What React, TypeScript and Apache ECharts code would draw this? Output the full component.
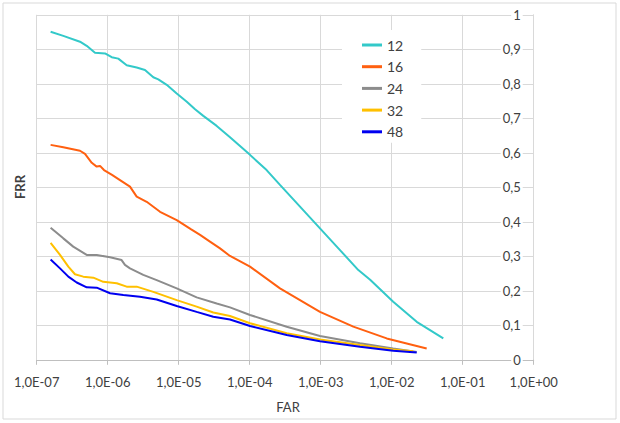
import React, { useEffect, useRef } from "react";
import * as echarts from "echarts";

const seriesNames = ["12", "16", "24", "32", "48"];
const seriesColors = ["#33C9C9", "#FF6010", "#8C8C8C", "#FFC000", "#0000F0"];

// [FAR, FRR]
const s12: [number, number][] = [
  [1.57e-7, 0.951], [2.37e-7, 0.939], [4.07e-7, 0.922], [5.06e-7, 0.91], [6.62e-7, 0.89],
  [9.16e-7, 0.888], [1.14e-6, 0.877], [1.41e-6, 0.873], [1.85e-6, 0.854], [2.56e-6, 0.847],
  [3.35e-6, 0.84], [4.39e-6, 0.819], [5.16e-6, 0.813], [6.78e-6, 0.797], [9.38e-6, 0.772],
  [1.3e-5, 0.748], [1.7e-5, 0.726], [2.22e-5, 0.707], [3.43e-5, 0.678], [5.28e-5, 0.645],
  [1.01e-4, 0.594], [1.73e-4, 0.55], [2.67e-4, 0.507], [5.11e-4, 0.444], [9.77e-4, 0.381],
  [1.87e-3, 0.318], [3.39e-3, 0.26], [4.97e-3, 0.232], [1.05e-2, 0.168], [2.25e-2, 0.11],
  [5.33e-2, 0.062],
];
const s16: [number, number][] = [
  [1.57e-7, 0.623], [2.37e-7, 0.616], [4.07e-7, 0.606], [4.79e-7, 0.597], [5.96e-7, 0.571],
  [7.0e-7, 0.56], [7.8e-7, 0.562], [8.87e-7, 0.55], [1.15e-6, 0.536], [1.49e-6, 0.521],
  [2.06e-6, 0.502], [2.56e-6, 0.473], [3.54e-6, 0.458], [5.46e-6, 0.429], [9.38e-6, 0.405],
  [1.5e-5, 0.378], [2.0e-5, 0.362], [2.79e-5, 0.342], [3.82e-5, 0.323], [5.28e-5, 0.301],
  [1.01e-4, 0.27], [2.67e-4, 0.207], [9.77e-4, 0.139], [2.88e-3, 0.096], [8.51e-3, 0.062],
  [3.11e-2, 0.033],
];
const s24: [number, number][] = [
  [1.57e-7, 0.383], [2.37e-7, 0.352], [3.27e-7, 0.328], [5.06e-7, 0.304], [7.0e-7, 0.304],
  [1.08e-6, 0.297], [1.57e-6, 0.289], [1.75e-6, 0.275], [2.06e-6, 0.265], [3.17e-6, 0.246],
  [4.9e-6, 0.231], [9.38e-6, 0.207], [1.79e-5, 0.181], [3.43e-5, 0.163], [5.28e-5, 0.152],
  [1.01e-4, 0.13], [3.32e-4, 0.096], [9.77e-4, 0.069], [3.58e-3, 0.048], [1.05e-2, 0.033],
  [2.25e-2, 0.023],
];
const s32: [number, number][] = [
  [1.57e-7, 0.339], [2.13e-7, 0.304], [2.79e-7, 0.27], [3.46e-7, 0.248], [4.53e-7, 0.241],
  [6.27e-7, 0.238], [8.67e-7, 0.226], [1.34e-6, 0.222], [1.85e-6, 0.212], [2.56e-6, 0.212],
  [4.39e-6, 0.197], [9.38e-6, 0.173], [1.79e-5, 0.154], [3.07e-5, 0.137], [5.28e-5, 0.127],
  [1.01e-4, 0.106], [3.32e-4, 0.077], [9.77e-4, 0.059], [3.58e-3, 0.043], [1.05e-2, 0.03],
  [2.01e-2, 0.025],
];
const s48: [number, number][] = [
  [1.57e-7, 0.291], [2.13e-7, 0.265], [2.79e-7, 0.241], [3.66e-7, 0.224], [5.06e-7, 0.21],
  [7.0e-7, 0.209], [1.08e-6, 0.193], [1.66e-6, 0.188], [2.85e-6, 0.183], [4.9e-6, 0.175],
  [9.38e-6, 0.156], [1.79e-5, 0.139], [3.07e-5, 0.125], [5.28e-5, 0.117], [1.01e-4, 0.098],
  [3.32e-4, 0.072], [9.77e-4, 0.054], [3.58e-3, 0.038], [1.05e-2, 0.026], [2.25e-2, 0.021],
];
const seriesData = [s12, s16, s24, s32, s48];

const xMin = 1e-7;
const xMax = 1;
const yMin = 0;
const yMax = 1;
const yStep = 0.1;

const FONT = "Lato, 'Noto Sans', sans-serif";
const TEXT = "#404040";

function fmtX(v: number): string {
  const e = Math.round(Math.log10(v));
  const a = Math.abs(e);
  return "1,0E" + (e < 0 ? "-" : "+") + (a < 10 ? "0" : "") + a;
}
function fmtY(v: number): string {
  if (Math.abs(v) < 1e-9) return "0";
  if (Math.abs(v - 1) < 1e-9) return "1";
  return v.toFixed(1).replace(".", ",");
}

export default function App() {
  const ref = useRef<HTMLDivElement>(null);
  useEffect(() => {
    if (!ref.current) return;
    const chart = echarts.init(ref.current, null, { renderer: "svg" });
    chart.setOption({
      animation: false,
      backgroundColor: "#fff",
      textStyle: { fontFamily: FONT },
      grid: { left: 36.7, right: 86.3, top: 14.8, bottom: 63.2, containLabel: false },
      xAxis: {
        type: "log",
        logBase: 10,
        min: xMin,
        max: xMax,
        axisLine: { show: true, lineStyle: { color: "#BFBFBF", width: 1 } },
        axisTick: { show: true, length: 5, lineStyle: { color: "#BFBFBF" } },
        axisLabel: { formatter: fmtX, color: TEXT, fontSize: 13, fontFamily: FONT, margin: 16 },
        splitLine: { show: true, lineStyle: { color: "#D9D9D9", width: 1 } },
        minorTick: { show: false },
      },
      yAxis: {
        type: "value",
        position: "right",
        min: yMin,
        max: yMax,
        interval: yStep,
        axisLine: { show: true, lineStyle: { color: "#D9D9D9", width: 1 } },
        axisTick: { show: false },
        axisLabel: {
          inside: true,
          formatter: fmtY,
          color: TEXT,
          fontSize: 13,
          fontFamily: FONT,
          margin: 11,
          backgroundColor: "#fff",
          padding: [0, 2, 0, 2],
        },
        splitLine: { show: true, lineStyle: { color: "#D9D9D9", width: 1 } },
      },
      legend: {
        orient: "vertical",
        left: 342,
        top: 30,
        backgroundColor: "#fff",
        padding: [7, 18, 3, 20],
        itemWidth: 20,
        itemHeight: 3,
        itemGap: 5.7,
        icon: "rect",
        textStyle: { color: TEXT, fontSize: 14, fontFamily: FONT, lineHeight: 16 },
        data: seriesNames,
      },
      graphic: [
        {
          type: "rect",
          shape: { x: 3, y: 3, width: 613, height: 416 },
          style: { fill: "none", stroke: "#D9D9D9", lineWidth: 1 },
          silent: true,
        },
        {
          type: "text",
          x: 20,
          y: 187,
          rotation: Math.PI / 2,
          style: {
            text: "FRR",
            fill: TEXT,
            font: "bold 13px " + FONT,
            textAlign: "center",
            textVerticalAlign: "middle",
          },
        },
        {
          type: "text",
          x: 288,
          y: 407,
          style: {
            text: "FAR",
            fill: TEXT,
            font: "13px " + FONT,
            textAlign: "center",
            textVerticalAlign: "middle",
          },
        },
      ],
      series: seriesNames.map((name, i) => ({
        name,
        type: "line",
        data: seriesData[i],
        showSymbol: false,
        symbol: "none",
        color: seriesColors[i],
        lineStyle: { color: seriesColors[i], width: 2 },
      })),
    });
    return () => chart.dispose();
  }, []);
  return (
    <div
      ref={ref}
      style={{ position: "fixed", left: 0, top: 0, width: 620, height: 423 }}
    />
  );
}
